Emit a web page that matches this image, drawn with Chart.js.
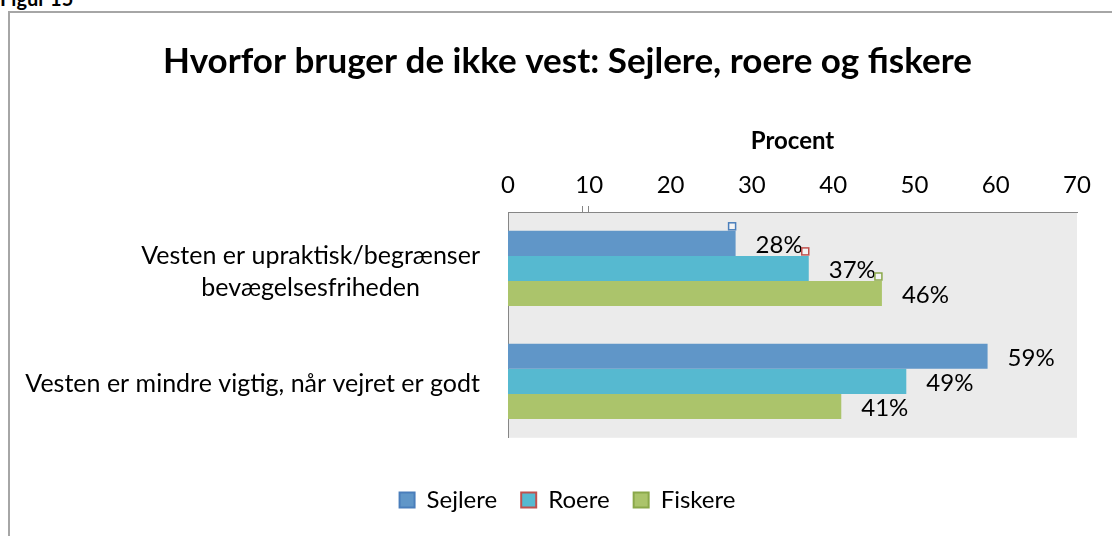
<!DOCTYPE html>
<html>
<head>
<meta charset="utf-8">
<script src="https://cdn.jsdelivr.net/npm/chart.js@4/dist/chart.umd.min.js"></script>
<style>
  html, body { margin: 0; padding: 0; background: #fff; overflow: hidden; }
  #fig { position: absolute; left: 0; top: -14px; font: bold 20px Lato, sans-serif; color: #000; }
  #frame { position: absolute; left: 8px; top: 11px; width: 1200px; height: 600px; border: 2px solid #a6a6a6; }
  #wrap { position: absolute; left: 0; top: 0; width: 1112px; height: 536px; }
</style>
</head>
<body>
<div id="fig">Figur 15</div>
<div id="frame"></div>
<div id="wrap"><canvas id="chart"></canvas></div>
<script>
const categories = [["Vesten er upraktisk/begrænser", "bevægelsesfriheden"], "Vesten er mindre vigtig, når vejret er godt"];
const seriesNames = ["Sejlere", "Roere", "Fiskere"];
const sejlere = [28, 59];
const roere = [37, 49];
const fiskere = [46, 41];
const xTicks = [0, 10, 20, 30, 40, 50, 60, 70];

const fills = ['#6096c8', '#56b9d0', '#abc46b'];
const borders = ['#4a7ebb', '#c0504d', '#8aa84a'];

Chart.defaults.font.family = 'Lato';
Chart.defaults.color = '#000';

const plotBg = {
  id: 'plotBg',
  beforeDraw(chart) {
    const {ctx, chartArea: a} = chart;
    ctx.save();
    ctx.fillStyle = '#ebebeb';
    ctx.fillRect(a.left, a.top, a.right - a.left, a.bottom - a.top);
    ctx.restore();
  }
};

// category labels: block right aligned, lines centred inside the block
const catLabels = {
  id: 'catLabels',
  afterDraw(chart) {
    const ctx = chart.ctx;
    const y = chart.scales.y;
    ctx.save();
    ctx.font = '25px Lato';
    ctx.fillStyle = '#000';
    ctx.textBaseline = 'middle';
    ctx.textAlign = 'center';
    categories.forEach((c, i) => {
      const lines = Array.isArray(c) ? c : [c];
      const w = Math.max(...lines.map(l => ctx.measureText(l).width));
      const cx = y.right - 28 - w / 2;
      const cy = y.getPixelForValue(i) + 3;
      lines.forEach((l, j) => {
        ctx.fillText(l, cx, cy + (j - (lines.length - 1) / 2) * 32);
      });
    });
    ctx.restore();
  }
};

const valueLabels = {
  id: 'valueLabels',
  afterDatasetsDraw(chart) {
    const ctx = chart.ctx;
    ctx.save();
    ctx.font = '24px Lato';
    ctx.fillStyle = '#000';
    ctx.textBaseline = 'middle';
    ctx.textAlign = 'left';
    chart.data.datasets.forEach((ds, d) => {
      chart.getDatasetMeta(d).data.forEach((bar, i) => {
        ctx.fillText(ds.data[i] + '%', bar.x + 20, bar.y + 2);
        if (i === 0) {
          // little leftover label markers from the original
          const top = bar.y - bar.height / 2;
          ctx.fillStyle = '#f4f4f4';
          ctx.fillRect(bar.x - 7, top - 8, 7, 7);
          ctx.strokeStyle = borders[d];
          ctx.lineWidth = 1.5;
          ctx.strokeRect(bar.x - 7, top - 8, 7, 7);
          ctx.fillStyle = '#000';
        }
      });
    });
    // double tick near 10
    const x = chart.scales.x;
    const top = chart.chartArea.top;
    ctx.strokeStyle = '#868686';
    ctx.lineWidth = 1;
    [x.getPixelForValue(10) - 7, x.getPixelForValue(10) - 1].forEach(px => {
      ctx.beginPath();
      ctx.moveTo(Math.round(px) + 0.5, top - 6);
      ctx.lineTo(Math.round(px) + 0.5, top);
      ctx.stroke();
    });
    ctx.restore();
  }
};

new Chart(document.getElementById('chart'), {
  type: 'bar',
  data: {
    labels: categories,
    datasets: [
      { label: seriesNames[0], data: sejlere, backgroundColor: fills[0] },
      { label: seriesNames[1], data: roere, backgroundColor: fills[1] },
      { label: seriesNames[2], data: fiskere, backgroundColor: fills[2] }
    ]
  },
  options: {
    indexAxis: 'y',
    responsive: true,
    maintainAspectRatio: false,
    animation: false,
    datasets: {
      bar: { barPercentage: 1, categoryPercentage: 0.667, borderWidth: 0 }
    },
    layout: { padding: { left: 58, right: 35, top: 0, bottom: 14 } },
    scales: {
      x: {
        position: 'top',
        min: 0,
        max: 70,
        afterBuildTicks: s => { s.ticks = xTicks.map(v => ({ value: v })); },
        afterFit: s => { s.height = 132; },
        grid: { display: false, drawTicks: false },
        border: { display: true, color: '#868686', width: 1 },
        ticks: { font: { size: 24 }, padding: 12, color: '#000' },
        title: {
          display: true,
          text: 'Procent',
          font: { size: 24, weight: 'bold' },
          padding: { top: 47, bottom: 0 },
          color: '#000'
        }
      },
      y: {
        afterFit: s => { s.width = 450; },
        grid: { display: false },
        border: { display: true, color: '#868686', width: 1 },
        ticks: { display: false }
      }
    },
    plugins: {
      title: {
        display: true,
        text: 'Hvorfor bruger de ikke vest: Sejlere, roere og fiskere',
        font: { size: 35, weight: 'bold', lineHeight: '36px' },
        padding: { top: 44, bottom: 0 },
        color: '#000'
      },
      legend: {
        position: 'bottom',
        title: { display: true, text: '', font: { size: 1 }, padding: { top: 25, bottom: 0 } },
        labels: {
          font: { size: 24 },
          boxWidth: 15,
          boxHeight: 15,
          padding: 24,
          color: '#000',
          generateLabels: chart => chart.data.datasets.map((ds, i) => ({
            text: ds.label,
            fillStyle: fills[i],
            strokeStyle: borders[i],
            lineWidth: 2,
            datasetIndex: i,
            hidden: false
          }))
        }
      },
      tooltip: { enabled: false }
    }
  },
  plugins: [plotBg, catLabels, valueLabels]
});
</script>
</body>
</html>
